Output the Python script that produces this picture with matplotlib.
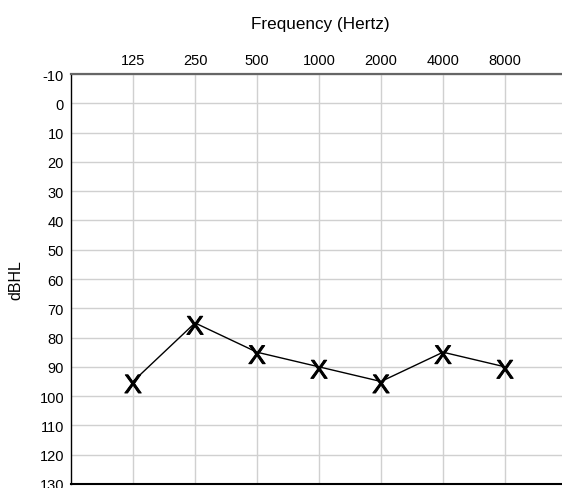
import matplotlib
matplotlib.use("Agg")
import matplotlib.pyplot as plt
import matplotlib.transforms as mtransforms
import matplotlib.patheffects as pe

plt.rcParams['font.family'] = ['Liberation Sans', 'DejaVu Sans']

frequencies = ["125", "250", "500", "1000", "2000", "4000", "8000"]
thresholds = [95, 75, 85, 90, 95, 85, 90]
db_ticks = list(range(-10, 131, 10))

fig = plt.figure(figsize=(5.62, 4.89), dpi=100)
ax = fig.add_axes([71 / 562, 4 / 489, 496 / 562, 410 / 489])

positions = list(range(1, len(frequencies) + 1))

ax.set_xlim(0, len(frequencies) + 1)
ax.set_ylim(130, -10)

ax.set_xticks(positions)
ax.set_xticklabels(frequencies, fontsize=10.5)
ax.set_yticks(db_ticks)
ax.set_yticklabels([str(v) for v in db_ticks], fontsize=10.5)
ax.xaxis.tick_top()
ax.tick_params(axis='x', length=0, pad=5)
ax.tick_params(axis='y', length=0, pad=5)

ax.grid(True, color='#d0d0d0', linewidth=1.0)
ax.set_axisbelow(True)

ax.spines['top'].set_color('#666666')
ax.spines['top'].set_linewidth(1.6)
ax.spines['left'].set_color('black')
ax.spines['left'].set_linewidth(1.0)
ax.spines['bottom'].set_color('black')
ax.spines['bottom'].set_linewidth(1.5)
ax.spines['right'].set_visible(False)

ax.plot(positions, thresholds, color='black', linewidth=1.0, zorder=3)

# "X" symbols sit with their glyph centre a touch below each threshold point
shift = mtransforms.ScaledTranslation(0, -0.115, fig.dpi_scale_trans)
for x, y in zip(positions, thresholds):
    ax.text(x, y, "X", fontsize=19, ha='center', va='baseline',
            color='black', zorder=4,
            transform=ax.transData + shift,
            path_effects=[pe.withStroke(linewidth=0.7, foreground='black')])

ax.set_ylabel("dBHL", fontsize=11.5)
ax.yaxis.set_label_coords(-48 / 496, 0.5)

fig.text(320 / 562, 1 - 25 / 489, "Frequency (Hertz)", fontsize=12.3,
         ha='center', va='center')

fig.savefig("out.png", dpi=100)
